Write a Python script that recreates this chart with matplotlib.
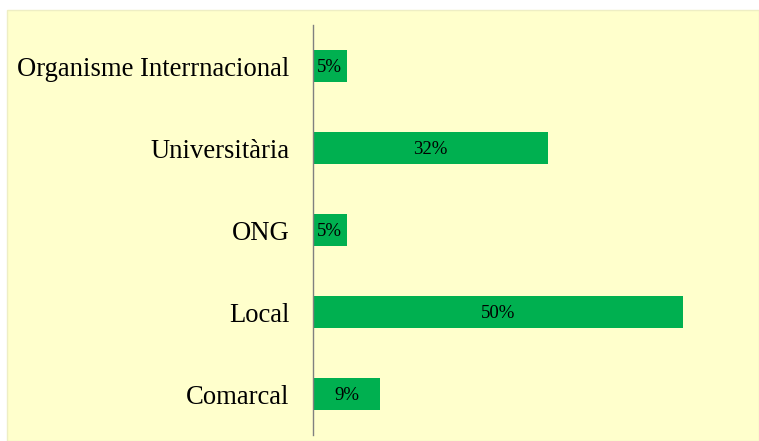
import matplotlib
matplotlib.use("Agg")
import matplotlib.pyplot as plt
from matplotlib.patches import Rectangle

categories = ["Comarcal", "Local", "ONG", "Universitària", "Organisme Interrnacional"]
values = [9.09, 50.0, 4.55, 31.82, 4.55]
labels = ["9%", "50%", "5%", "32%", "5%"]

plt.rcParams['font.family'] = ['Liberation Serif', 'DejaVu Serif']

W, H = 759, 441
fig = plt.figure(figsize=(W / 100, H / 100), dpi=100)
fig.patch.set_facecolor("white")

# panel background
fig.patches.append(Rectangle((7 / W, 0), 1 - 7 / W, 1 - 10 / H, transform=fig.transFigure,
                             facecolor="#FFFFCC", edgecolor="#EEEEC4", linewidth=1.0, zorder=-10))

left = 313 / W
bottom = (H - 435) / H
top = (H - 25) / H
xmax = 58.0
width = xmax * 7.4 / W
ax = fig.add_axes([left, bottom, width, top - bottom])
ax.set_facecolor("none")
ax.set_zorder(5)

ypos = list(range(len(categories)))
ax.barh(ypos, values, height=0.39, color="#00B050", zorder=2)
for y, v, t in zip(ypos, values, labels):
    ax.text(v / 2, y, t, ha="center", va="center_baseline", fontsize=13.5, color="black", zorder=3)

ax.set_xlim(0, xmax)
ax.set_ylim(-0.5, len(categories) - 0.5)
ax.set_yticks(ypos)
ax.set_yticklabels(categories, fontsize=19.2)
ax.tick_params(axis="y", length=0, pad=17)
ax.set_xticks([])
for s in ["top", "right", "bottom"]:
    ax.spines[s].set_visible(False)
ax.spines["left"].set_color("#808080")
ax.spines["left"].set_linewidth(1.0)

fig.savefig("out.png", dpi=100)
